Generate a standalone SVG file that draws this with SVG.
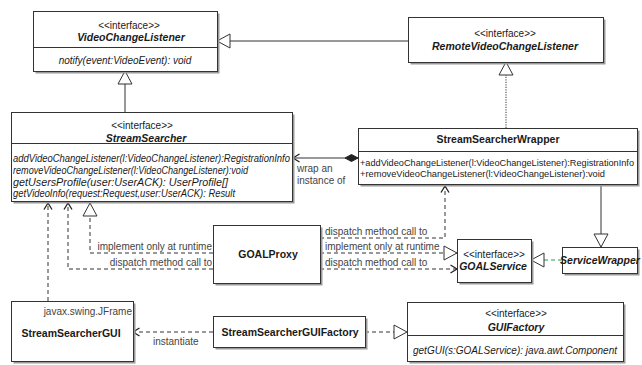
<svg xmlns="http://www.w3.org/2000/svg" width="642" height="365" viewBox="0 0 642 365">
<style>
.box{fill:#fff;stroke:#333;stroke-width:1}
.sh{fill:#9a9a9a}
.dv{stroke:#333;stroke-width:1}
text{font-family:"Liberation Sans",Arial,sans-serif;font-size:10px;fill:#1a1a1a}
.b{font-weight:bold;font-size:10.5px}
.i{font-style:italic}
.c{text-anchor:middle}
.e{text-anchor:end}
.m{font-size:9.3px}
.lbl{fill:#444}
.ln{fill:none;stroke:#333;stroke-width:1}
.d{stroke-dasharray:4 3}
.dot{stroke-dasharray:1.2 1.3}
.g{stroke:#1aa34a}
</style>
<defs>
<marker id="tri" markerUnits="userSpaceOnUse" markerWidth="16" markerHeight="16" refX="13" refY="7" orient="auto" overflow="visible">
<path d="M0,0 L13,7 L0,14 Z" fill="#fff" stroke="#333" stroke-width="1" stroke-dasharray="none"/>
</marker>
<marker id="open" markerUnits="userSpaceOnUse" markerWidth="10" markerHeight="10" refX="6.5" refY="4" orient="auto" overflow="visible">
<path d="M0,0 L6.5,4 L0,8" fill="none" stroke="#222" stroke-width="1.3" stroke-dasharray="none"/>
</marker>
<marker id="dia" markerUnits="userSpaceOnUse" markerWidth="14" markerHeight="10" refX="0" refY="4" orient="auto" overflow="visible">
<path d="M0,4 L6.5,0.5 L13,4 L6.5,7.5 Z" fill="#222" stroke="#222" stroke-width="1" stroke-dasharray="none"/>
</marker>
</defs>

<g id="connectors">
<path class="ln" d="M408,41 H217" marker-end="url(#tri)"/>
<path class="ln" d="M125,112 V71" marker-end="url(#tri)"/>
<path class="ln dot" d="M506,128 V62" marker-end="url(#tri)"/>
<path class="ln" d="M358,158 H293" marker-start="url(#dia)" marker-end="url(#open)"/>
<path class="ln" d="M601,186 V247" marker-end="url(#tri)"/>
<path class="ln d" d="M320,238 H445 V186" marker-end="url(#open)"/>
<path class="ln d" d="M320,253 H457" marker-end="url(#tri)"/>
<path class="ln d" d="M320,269 H457" marker-end="url(#open)"/>
<path class="ln d" d="M213,253 H90 V203" marker-end="url(#tri)"/>
<path class="ln d" d="M213,269 H68 V203" marker-end="url(#open)"/>
<path class="ln d" d="M48,301 V203" marker-end="url(#open)"/>
<path class="ln d g" d="M562,260 H531" marker-end="url(#tri)"/>
<path class="ln d" d="M213,332 H133" marker-end="url(#open)"/>
<path class="ln d" d="M365,332 H407" marker-end="url(#tri)"/>
<text class="lbl" x="297" y="172">wrap an</text>
<text class="lbl" x="297" y="184">instance of</text>
<text class="lbl e" x="212" y="250">implement only at runtime</text>
<text class="lbl e" x="212" y="266">dispatch method call to</text>
<text class="lbl" x="325" y="235">dispatch method call to</text>
<text class="lbl" x="325" y="250">implement only at runtime</text>
<text class="lbl" x="325" y="266">dispatch method call to</text>
<text class="lbl" x="153" y="345">instantiate</text>
</g>

<g id="VideoChangeListener">
<rect class="sh" x="35.5" y="13.5" width="184" height="60"/>
<rect class="box" x="33.5" y="11.5" width="184" height="60"/>
<line class="dv" x1="33.5" y1="47.5" x2="217.5" y2="47.5"/>
<text class="c" x="129" y="29">&lt;&lt;interface&gt;&gt;</text>
<text class="c b i" x="131" y="41">VideoChangeListener</text>
<text class="c i" x="125" y="64">notify(event:VideoEvent): void</text>
</g>

<g id="RemoteVideoChangeListener">
<rect class="sh" x="410.5" y="19.5" width="195" height="45"/>
<rect class="box" x="408.5" y="17.5" width="195" height="45"/>
<text class="c" x="505" y="37">&lt;&lt;interface&gt;&gt;</text>
<text class="c b i" x="505" y="50">RemoteVideoChangeListener</text>
</g>

<g id="StreamSearcher">
<rect class="sh" x="13.5" y="114.5" width="281" height="89"/>
<rect class="box" x="11.5" y="112.5" width="281" height="89"/>
<line class="dv" x1="11.5" y1="143.5" x2="292.5" y2="143.5"/>
<text class="c" x="142" y="129">&lt;&lt;interface&gt;&gt;</text>
<text class="c b i" x="146" y="142">StreamSearcher</text>
<text class="i" x="13" y="162" textLength="277" lengthAdjust="spacingAndGlyphs">addVideoChangeListener(l:VideoChangeListener):RegistrationInfo</text>
<text class="i" x="13" y="174" textLength="235" lengthAdjust="spacingAndGlyphs">removeVideoChangeListener(l:VideoChangeListener):void</text>
<text class="i" x="13" y="186" textLength="215" lengthAdjust="spacingAndGlyphs">getUsersProfile(user:UserACK): UserProfile[]</text>
<text class="i" x="13" y="197" textLength="222" lengthAdjust="spacingAndGlyphs">getVideoInfo(request:Request,user:UserACK): Result</text>
</g>

<g id="StreamSearcherWrapper">
<rect class="sh" x="360.5" y="130.5" width="279" height="56"/>
<rect class="box" x="358.5" y="128.5" width="279" height="56"/>
<line class="dv" x1="358.5" y1="151.5" x2="637.5" y2="151.5"/>
<text class="c b" x="498" y="143">StreamSearcherWrapper</text>
<text class="m" x="360" y="166" textLength="274" lengthAdjust="spacingAndGlyphs">+addVideoChangeListener(l:VideoChangeListener):RegistrationInfo</text>
<text class="m" x="360" y="177" textLength="245" lengthAdjust="spacingAndGlyphs">+removeVideoChangeListener(l:VideoChangeListener):void</text>
</g>

<g id="GOALProxy">
<rect class="sh" x="215.5" y="227.5" width="107" height="58"/>
<rect class="box" x="213.5" y="225.5" width="107" height="58"/>
<text class="c b" x="268" y="258">GOALProxy</text>
</g>

<g id="GOALService">
<rect class="sh" x="459.5" y="241.5" width="74" height="43"/>
<rect class="box" x="457.5" y="239.5" width="74" height="43"/>
<text class="c" x="494" y="258">&lt;&lt;interface&gt;&gt;</text>
<text class="c b i" x="493" y="270">GOALService</text>
</g>

<g id="ServiceWrapper">
<rect class="sh" x="564.5" y="249.5" width="75" height="26"/>
<rect class="box" x="562.5" y="247.5" width="75" height="26"/>
<text class="c b i" x="600" y="264">ServiceWrapper</text>
</g>

<g id="StreamSearcherGUI">
<rect class="sh" x="13.5" y="303.5" width="122" height="60"/>
<rect class="box" x="11.5" y="301.5" width="122" height="60"/>
<text class="e lbl" x="132" y="315">javax.swing.JFrame</text>
<text class="c b" x="71" y="337">StreamSearcherGUI</text>
</g>

<g id="StreamSearcherGUIFactory">
<rect class="sh" x="215.5" y="318.5" width="152" height="31"/>
<rect class="box" x="213.5" y="316.5" width="152" height="31"/>
<text class="c b" x="290" y="336">StreamSearcherGUIFactory</text>
</g>

<g id="GUIFactory">
<rect class="sh" x="409.5" y="304.5" width="216" height="59"/>
<rect class="box" x="407.5" y="302.5" width="216" height="59"/>
<line class="dv" x1="407.5" y1="335.5" x2="623.5" y2="335.5"/>
<text class="c" x="516" y="317">&lt;&lt;interface&gt;&gt;</text>
<text class="c b i" x="516" y="331">GUIFactory</text>
<text class="c i" x="515" y="354">getGUI(s:GOALService): java.awt.Component</text>
</g>
</svg>
